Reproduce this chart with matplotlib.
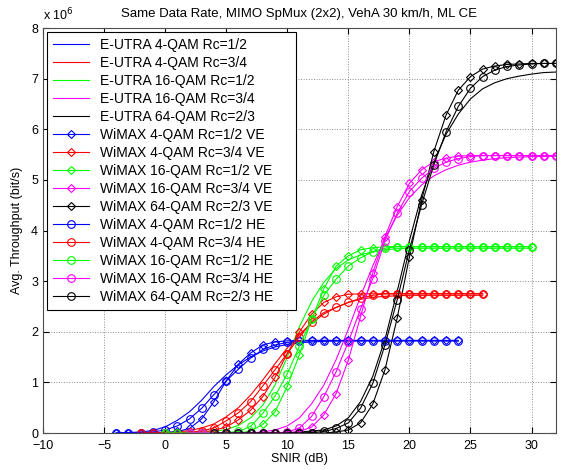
import numpy as np
import matplotlib
matplotlib.use('Agg')
import matplotlib.pyplot as plt
from matplotlib.ticker import FuncFormatter

plt.rcParams['font.family'] = ['Liberation Sans', 'DejaVu Sans']

# SNIR grids (dB), one per modulation / code rate
snr_qpsk12 = np.arange(-4, 25)
snr_qpsk34 = np.arange(-2, 27)
snr_16qam12 = np.arange(0, 31)
snr_16qam34 = np.arange(2, 33)
snr_64qam23 = np.arange(4, 33)

# throughput in Mbit/s
eutra_qpsk12 = [0, 0.01, 0.02, 0.05, 0.12, 0.25, 0.42, 0.65, 0.92, 1.15, 1.35, 1.5, 1.62, 1.7,
                1.75, 1.78, 1.8, 1.81] + [1.82] * 11
eutra_qpsk34 = [0, 0, 0.01, 0.02, 0.05, 0.1, 0.18, 0.32, 0.5, 0.75, 1.05, 1.37, 1.68, 1.95,
                2.17, 2.35, 2.48, 2.58, 2.64, 2.68, 2.7, 2.71] + [2.72] * 7
eutra_16qam12 = [0, 0, 0, 0.01, 0.03, 0.07, 0.15, 0.3, 0.55, 0.95, 1.5, 2.1, 2.6, 2.98,
                 3.25, 3.42, 3.52, 3.58, 3.62, 3.64] + [3.65] * 11
eutra_16qam34 = [0] * 6 + [0.02, 0.06, 0.14, 0.3, 0.58, 0.95, 1.45, 2.05, 2.7, 3.3, 3.85, 4.3,
                           4.65, 4.9, 5.08, 5.2, 5.29, 5.35, 5.39, 5.42, 5.44, 5.45, 5.46, 5.46, 5.47]
eutra_64qam23 = [0] * 6 + [0.01, 0.02, 0.04, 0.06, 0.14, 0.3, 0.62, 1.12, 1.85, 2.8, 3.8, 4.7,
                           5.35, 5.9, 6.3, 6.6, 6.8, 6.92, 7.0, 7.05, 7.09, 7.12, 7.13]

ve_qpsk12 = [0, 0, 0, 0, 0.01, 0.03, 0.09, 0.28, 0.62, 1.03, 1.36, 1.58, 1.74, 1.8, 1.82] + [1.83] * 14
ve_qpsk34 = [0, 0, 0, 0, 0.01, 0.02, 0.05, 0.12, 0.26, 0.45, 0.72, 1.1, 1.57, 2.0, 2.35, 2.58,
             2.69, 2.74] + [2.75] * 11
ve_16qam12 = [0] * 7 + [0.04, 0.17, 0.42, 0.92, 1.55, 2.25, 2.85, 3.3, 3.5, 3.62, 3.66] + [3.68] * 13
ve_16qam34 = [0] * 9 + [0.03, 0.12, 0.36, 0.78, 1.44, 2.3, 3.16, 3.88, 4.47, 4.93, 5.2, 5.36,
                        5.43, 5.47] + [5.48] * 8
ve_64qam23 = [0] * 10 + [0.02, 0.06, 0.2, 0.57, 1.25, 2.27, 3.48, 4.6, 5.56, 6.28, 6.77, 7.04,
                         7.19, 7.25, 7.28, 7.29] + [7.3] * 3

he_qpsk12 = [0, 0, 0.01, 0.02, 0.06, 0.14, 0.28, 0.49, 0.76, 1.03, 1.26, 1.48, 1.65, 1.74, 1.79,
             1.81] + [1.82] * 13
he_qpsk34 = [0, 0, 0, 0.01, 0.02, 0.04, 0.1, 0.24, 0.4, 0.62, 0.93, 1.25, 1.57, 1.9, 2.2, 2.38,
             2.48, 2.58, 2.66, 2.72] + [2.75] * 9
he_16qam12 = [0] * 5 + [0.01, 0.03, 0.13, 0.39, 0.73, 1.17, 1.72, 2.25, 2.72, 3.04, 3.3, 3.46,
                        3.58, 3.65] + [3.68] * 12
he_16qam34 = [0] * 8 + [0.02, 0.1, 0.33, 0.72, 1.21, 1.8, 2.45, 3.05, 3.8, 4.34, 4.77, 5.03, 5.23,
                        5.35, 5.42, 5.46] + [5.48] * 7
he_64qam23 = [0] * 8 + [0.01, 0.03, 0.09, 0.2, 0.49, 0.98, 1.74, 2.63, 3.62, 4.51, 5.3, 5.95, 6.45,
                        6.81, 7.04, 7.17, 7.24, 7.27, 7.29, 7.3, 7.3]

modes = ['4-QAM Rc=1/2', '4-QAM Rc=3/4', '16-QAM Rc=1/2', '16-QAM Rc=3/4', '64-QAM Rc=2/3']
colors = ['#0000ff', '#ff0000', '#00ff00', '#ff00ff', '#000000']
snrs = [snr_qpsk12, snr_qpsk34, snr_16qam12, snr_16qam34, snr_64qam23]
eutra = [eutra_qpsk12, eutra_qpsk34, eutra_16qam12, eutra_16qam34, eutra_64qam23]
wimax_ve = [ve_qpsk12, ve_qpsk34, ve_16qam12, ve_16qam34, ve_64qam23]
wimax_he = [he_qpsk12, he_qpsk34, he_16qam12, he_16qam34, he_64qam23]

fig = plt.figure(figsize=(5.7, 4.7), dpi=100)
ax = fig.add_axes([0.0754, 0.0787, 0.9, 0.8617])

for x, y, c, m in zip(snrs, eutra, colors, modes):
    ax.plot(x, np.array(y) * 1e6, '-', color=c, lw=0.8, label='E-UTRA ' + m)
for x, y, c, m in zip(snrs, wimax_ve, colors, modes):
    ax.plot(x, np.array(y) * 1e6, '-D', color=c, lw=0.8, ms=4.2, mfc='none', mew=0.8,
            label='WiMAX ' + m + ' VE')
for x, y, c, m in zip(snrs, wimax_he, colors, modes):
    ax.plot(x, np.array(y) * 1e6, '-o', color=c, lw=0.8, ms=5.5, mfc='none', mew=0.8,
            label='WiMAX ' + m + ' HE')

ax.set_xlim(-10, 32)
ax.set_ylim(0, 8e6)
ax.set_xticks(np.arange(-10, 31, 5))
ax.set_yticks(np.arange(0, 8.1e6, 1e6))
ax.yaxis.set_major_formatter(FuncFormatter(lambda v, p: '%g' % (v / 1e6)))
ax.grid(True, linestyle=':', color='0.55', lw=0.7)
ax.tick_params(direction='in', top=True, right=True, labelsize=9, length=4)
ax.tick_params(axis='x', pad=5)
for s in ax.spines.values():
    s.set_linewidth(0.8)
    s.set_color('0.3')

ax.text(0.0, 1.012, r'x 10$^6$', transform=ax.transAxes, fontsize=9, ha='left', va='bottom')
ax.set_title('Same Data Rate, MIMO SpMux (2x2), VehA 30 km/h, ML CE', fontsize=9.5, pad=8)
ax.set_xlabel('SNIR (dB)', fontsize=9, labelpad=1)
ax.set_ylabel('Avg. Throughput (bit/s)', fontsize=9, labelpad=6)

# legend box stretched to a fixed width in axes coordinates
leg = ax.legend(loc='upper left', bbox_to_anchor=(0.0078, 0.323, 0.485, 0.667), mode='expand',
                fontsize=10, handlelength=2.6, labelspacing=0.29, borderaxespad=0.0,
                fancybox=False, framealpha=1, edgecolor='black')
leg.get_frame().set_linewidth(0.8)

fig.savefig('out.png', dpi=100)
